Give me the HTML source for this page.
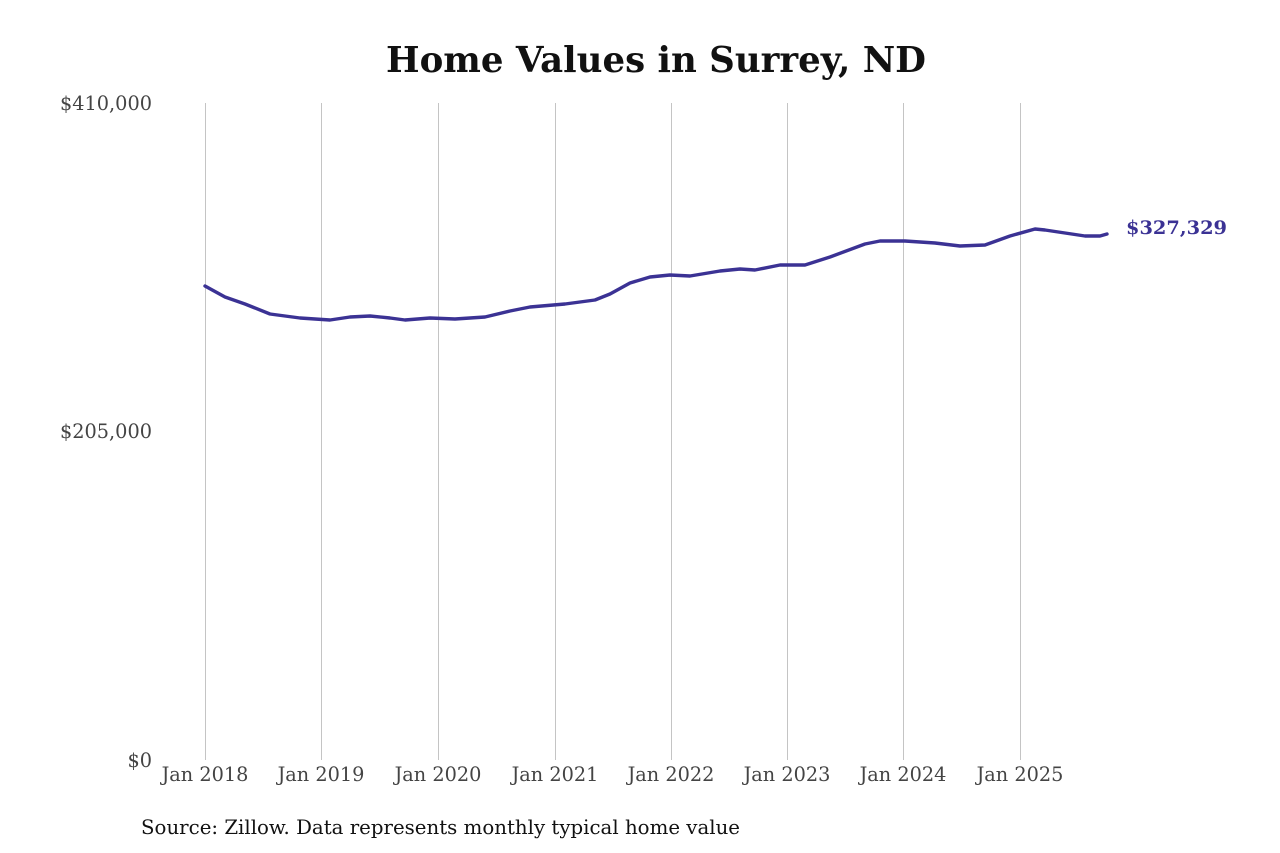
<!DOCTYPE html>
<html><head><meta charset="utf-8"><style>
body{margin:0;background:#fff;}
svg{display:block;font-family:"DejaVu Serif","Liberation Serif",serif;}
</style></head><body>
<svg width="1280" height="853" viewBox="0 0 1280 853">
<rect width="1280" height="853" fill="#fff"/>
<text x="656" y="72" text-anchor="middle" font-size="35.5" font-weight="bold" fill="#111" textLength="540" lengthAdjust="spacingAndGlyphs">Home Values in Surrey, ND</text>
<g stroke="#c4c4c4" stroke-width="1">
<line x1="205.5" y1="103" x2="205.5" y2="760"/>
<line x1="321.5" y1="103" x2="321.5" y2="760"/>
<line x1="438.5" y1="103" x2="438.5" y2="760"/>
<line x1="555.5" y1="103" x2="555.5" y2="760"/>
<line x1="671.5" y1="103" x2="671.5" y2="760"/>
<line x1="787.5" y1="103" x2="787.5" y2="760"/>
<line x1="903.5" y1="103" x2="903.5" y2="760"/>
<line x1="1020.5" y1="103" x2="1020.5" y2="760"/>
</g>
<g font-size="19.3" fill="#444">
<text x="152" y="110" text-anchor="end">$410,000</text>
<text x="152" y="438" text-anchor="end">$205,000</text>
<text x="152" y="767" text-anchor="end">$0</text>
<text x="205" y="781" text-anchor="middle">Jan 2018</text>
<text x="321" y="781" text-anchor="middle">Jan 2019</text>
<text x="438" y="781" text-anchor="middle">Jan 2020</text>
<text x="555" y="781" text-anchor="middle">Jan 2021</text>
<text x="671" y="781" text-anchor="middle">Jan 2022</text>
<text x="787" y="781" text-anchor="middle">Jan 2023</text>
<text x="903" y="781" text-anchor="middle">Jan 2024</text>
<text x="1020" y="781" text-anchor="middle">Jan 2025</text>
</g>
<polyline fill="none" stroke="#3b3294" stroke-width="3.4" stroke-linejoin="round" stroke-linecap="round" points="205,286 225,297 245,304 270,314 300,318 330,320 350,317 370,316 390,318 405,320 430,318 455,319 485,317 510,311 530,307 565,304 595,300 610,294 630,283 650,277 670,275 690,276 720,271 740,269 755,270 780,265 805,265 830,257 865,244 880,241 905,241 935,243 960,246 985,245 1010,236 1035,229 1045,230 1065,233 1085,236 1100,236 1107,234"/>
<text x="1126" y="234" font-size="19" font-weight="bold" fill="#3b3294" textLength="101" lengthAdjust="spacingAndGlyphs">$327,329</text>
<text x="141" y="834" font-size="19.5" fill="#111" textLength="599" lengthAdjust="spacingAndGlyphs">Source: Zillow. Data represents monthly typical home value</text>
</svg>
</body></html>
